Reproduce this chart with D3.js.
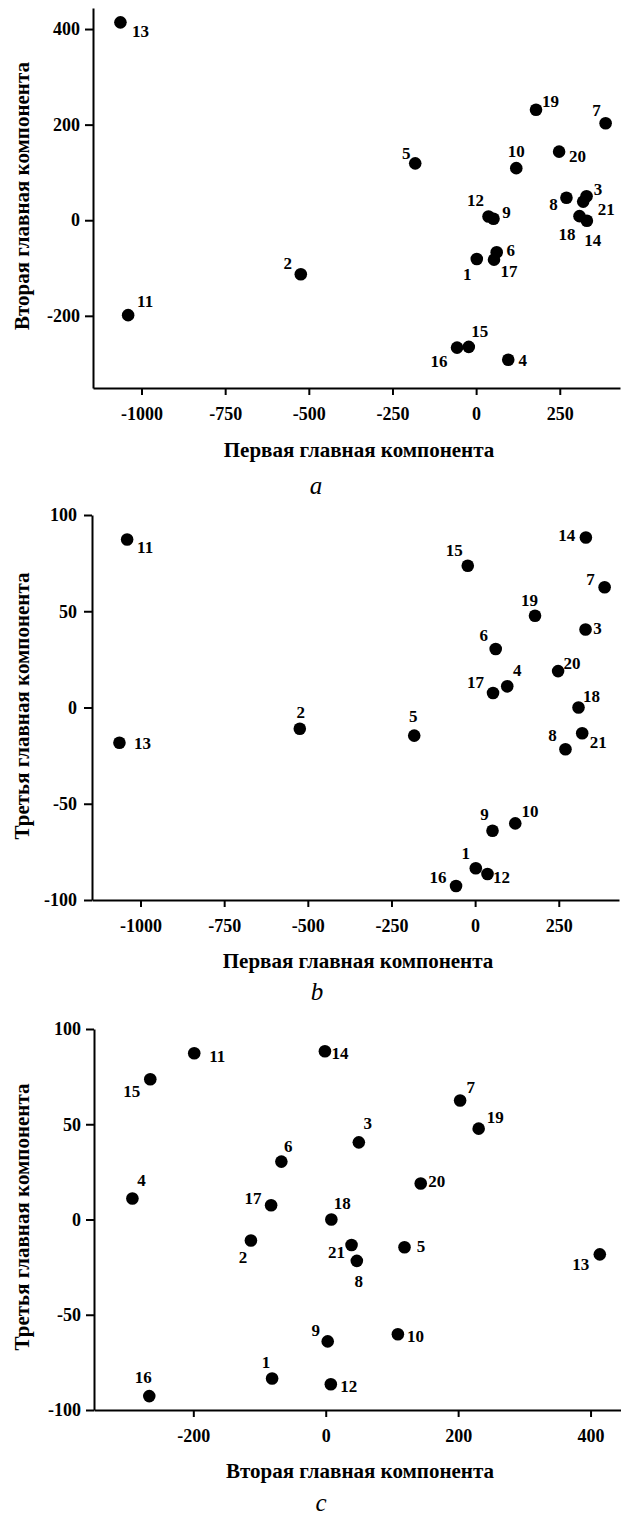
<!DOCTYPE html>
<html>
<head>
<meta charset="utf-8">
<script src="https://d3js.org/d3.v7.min.js"></script>
<style>
  body { margin: 0; background: #fff; }
  svg { display: block; }
  .tick text { font-family: "Liberation Serif", "Times New Roman", serif; font-weight: bold; font-size: 18px; fill: #000; }
  .domain, .tick line { stroke: #000; stroke-width: 2; }
  .lbl { font-family: "Liberation Serif", "Times New Roman", serif; font-weight: bold; font-size: 17px; }
  .title { font-family: "Liberation Serif", "Times New Roman", serif; font-weight: bold; font-size: 21px; }
  .cap { font-family: "Liberation Serif", "Times New Roman", serif; font-style: italic; font-size: 25px; }
</style>
</head>
<body>
<svg></svg>
<script>
// object numbers and their principal component scores
const ids = [1, 2, 3, 4, 5, 6, 7, 8, 9, 10, 11, 12, 13, 14, 15, 16, 17, 18, 19, 20, 21]
const pc1 = [2, -524, 330, 96, -182, 61.5, 387, 270, 52, 120, -1040, 37, -1063, 331, -22, -57, 53.5, 309, 179, 248, 320]
const pc2 = [-81, -113, 50, -292, 119, -67, 203, 47, 3, 109, -198.6, 7.7, 414, -1.2, -265, -266.5, -82.5, 8.5, 231, 143.5, 39]
const pc3 = [-83.5, -11, 40.5, 11, -14.6, 30.4, 62.5, -21.7, -64, -60.2, 87.3, -86.5, -18.3, 88.3, 73.6, -92.7, 7.5, 0, 47.7, 18.9, -13.4]

// tick values
const ticksPC1 = [-1000, -750, -500, -250, 0, 250]
const ticksPC2a = [-200, 0, 200, 400]
const ticksPC2c = [-200, 0, 200, 400]
const ticksPC3 = [-100, -50, 0, 50, 100]

const width = 621, height = 1517

// label offsets from each point, by object number
const offA = {1:[-9.5,16],2:[-13,-11],3:[11.5,-7],4:[14.5,1],5:[-9,-10],6:[14,-2],7:[-9,-13],8:[-13,7],9:[13,-6],10:[0,-17],
  11:[17,-14],12:[-13,-16],13:[20,9],14:[6,20],15:[11,-15],16:[-18,14],17:[15,12],18:[-12.5,18],19:[14.5,-8.6],20:[18.5,5],21:[23,8]}
const offB = {1:[-10,-15],2:[1,-16],3:[12,-1],4:[10,-16],5:[-1,-19],6:[-12,-13],7:[-14,-8],8:[-13,-14],9:[-8,-16],10:[14.7,-11.6],
  11:[18,8],12:[14,3],13:[23,0.6],14:[-19,-2],15:[-13.5,-15],16:[-18,-8],17:[-17.5,-11],18:[13,-10.6],19:[-5.5,-15],20:[14,-8],21:[16,9]}
const offC = {1:[-6,-15.6],2:[-8,17],3:[9,-19],4:[9,-17.6],5:[16.6,-0.7],6:[7,-15],7:[10.7,-13],8:[2,21],9:[-12,-11],10:[17.5,2],
  11:[23,3],12:[18,2.4],13:[-19,10],14:[15,2],15:[-18.6,12],16:[-6,-19],17:[-18,-7],18:[11,-16],19:[16.6,-11.6],20:[16,-1.6],21:[-15,7]}

const svg = d3.select("svg").attr("width", width).attr("height", height)

const fmt = d => String(d)

function panel(cfg) {
  const g = svg.append("g")
  const x = d3.scaleLinear().domain(cfg.xDomain).range(cfg.xRange)
  const y = d3.scaleLinear().domain(cfg.yDomain).range(cfg.yRange)

  g.append("g")
    .attr("transform", "translate(0," + cfg.yRange[0] + ")")
    .call(d3.axisBottom(x).tickValues(cfg.xTicks).tickFormat(fmt).tickSize(7).tickSizeOuter(0).tickPadding(12))

  g.append("g")
    .attr("transform", "translate(" + cfg.xRange[0] + ",0)")
    .call(d3.axisLeft(y).tickValues(cfg.yTicks).tickFormat(fmt).tickSize(8).tickSizeOuter(0).tickPadding(cfg.yPad))

  const pts = ids.map((id, i) => ({id: id, x: cfg.xs[i], y: cfg.ys[i]}))

  g.selectAll("circle.pt")
    .data(pts)
    .enter()
    .append("circle")
    .attr("class", "pt")
    .attr("cx", d => x(d.x))
    .attr("cy", d => y(d.y))
    .attr("r", 6.3)
    .attr("fill", "#000")

  g.selectAll("text.lbl")
    .data(pts)
    .enter()
    .append("text")
    .attr("class", "lbl")
    .attr("x", d => x(d.x) + cfg.off[d.id][0])
    .attr("y", d => y(d.y) + cfg.off[d.id][1])
    .attr("text-anchor", "middle")
    .attr("dominant-baseline", "central")
    .text(d => d.id)

  // axis titles
  g.append("text")
    .attr("class", "title")
    .attr("x", cfg.xTitlePos[0])
    .attr("y", cfg.xTitlePos[1])
    .attr("text-anchor", "middle")
    .attr("dominant-baseline", "central")
    .text(cfg.xTitle)

  g.append("text")
    .attr("class", "title")
    .attr("transform", "translate(" + cfg.yTitlePos[0] + "," + cfg.yTitlePos[1] + ") rotate(-90)")
    .attr("text-anchor", "middle")
    .attr("dominant-baseline", "central")
    .text(cfg.yTitle)

  g.append("text")
    .attr("class", "cap")
    .attr("x", cfg.capPos[0])
    .attr("y", cfg.capPos[1])
    .attr("text-anchor", "middle")
    .text(cfg.cap)
}

panel({
  xs: pc1, ys: pc2, off: offA,
  xDomain: [-1145, 430], xRange: [93, 620],
  yDomain: [-351, 444], yRange: [388, 8],
  xTicks: ticksPC1, yTicks: ticksPC2a, yPad: 5,
  xTitle: "Первая главная компонента", xTitlePos: [359, 450],
  yTitle: "Вторая главная компонента", yTitlePos: [22, 196],
  cap: "a", capPos: [316, 494]
})

panel({
  xs: pc1, ys: pc3, off: offB,
  xDomain: [-1145, 430], xRange: [92, 619],
  yDomain: [-100, 100], yRange: [900, 515],
  xTicks: ticksPC1, yTicks: ticksPC3, yPad: 7,
  xTitle: "Первая главная компонента", xTitlePos: [358, 961],
  yTitle: "Третья главная компонента", yTitlePos: [22, 706],
  cap: "b", capPos: [317, 1000]
})

panel({
  xs: pc2, ys: pc3, off: offC,
  xDomain: [-350, 446], xRange: [94, 621],
  yDomain: [-100, 100], yRange: [1410, 1029],
  xTicks: ticksPC2c, yTicks: ticksPC3, yPad: 5,
  xTitle: "Вторая главная компонента", xTitlePos: [360, 1471],
  yTitle: "Третья главная компонента", yTitlePos: [22, 1217],
  cap: "c", capPos: [321, 1511]
})
</script>
</body>
</html>
